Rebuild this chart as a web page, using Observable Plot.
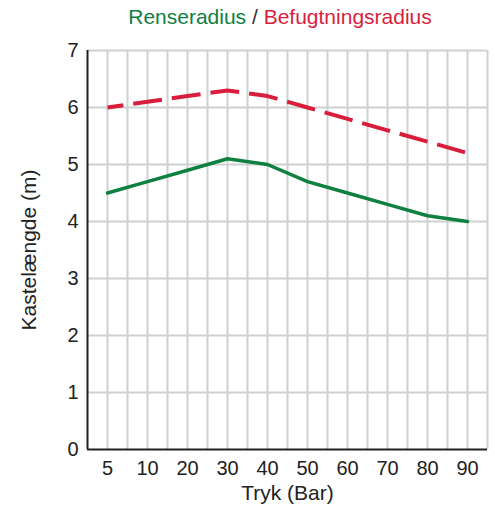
<!DOCTYPE html>
<html>
<head>
<meta charset="utf-8">
<script src="https://cdn.jsdelivr.net/npm/d3@7"></script>
<script src="https://cdn.jsdelivr.net/npm/@observablehq/plot@0.6"></script>
<style>
  body { margin: 0; background: #fff; }
  #wrap { position: relative; width: 495px; height: 508px; font-family: "Liberation Sans", Arial, sans-serif; }
  #title { position: absolute; top: 5px; left: 0; width: 560px; text-align: center; font-size: 21px; }
  #title .g { color: #0e8040; }
  #title .r { color: #d81e3c; }
  #title .s { color: #333; }
</style>
</head>
<body>
<div id="wrap">
  <div id="title"><span class="g">Renseradius</span><span class="s"> / </span><span class="r">Befugtningsradius</span></div>
  <div id="chart"></div>
</div>
<script>
const pressures = [5, 10, 20, 30, 40, 50, 60, 70, 80, 90];
const renseradius = [4.5, 4.7, 4.9, 5.1, 5.0, 4.7, 4.5, 4.3, 4.1, 4.0];
const befugtningsradius = [6.0, 6.1, 6.2, 6.3, 6.2, 6.0, 5.8, 5.6, 5.4, 5.2];
const yTicks = [0, 1, 2, 3, 4, 5, 6, 7];

const idx = pressures.map((_, i) => i);
const rense = idx.map(i => ({i, v: renseradius[i]}));
const befugt = idx.map(i => ({i, v: befugtningsradius[i]}));
const vGrid = d3.range(0, pressures.length, 0.5);

const chart = Plot.plot({
  width: 495,
  height: 508,
  marginLeft: 87,
  marginRight: 8,
  marginTop: 50,
  marginBottom: 59,
  style: {fontFamily: "Liberation Sans, Arial, sans-serif", fontSize: "20px", color: "#222", background: "#fff"},
  x: {domain: [-0.5, pressures.length - 0.5], label: null},
  y: {domain: [0, 7], label: null},
  marks: [
    Plot.ruleX(vGrid, {stroke: "#cdd2d1", strokeWidth: 2}),
    Plot.ruleY(yTicks.filter(d => d > 0), {stroke: "#cdd2d1", strokeWidth: 2}),
    Plot.ruleX([-0.5], {y1: 0, y2: 7, stroke: "#222", strokeWidth: 2}),
    Plot.ruleY([0], {stroke: "#222", strokeWidth: 2}),
    Plot.axisX(idx, {tickSize: 0, tickPadding: 11, tickFormat: i => pressures[i], fontSize: 20, label: null}),
    Plot.axisY(yTicks, {tickSize: 0, tickPadding: 9, tickFormat: d => String(d), fontSize: 20, label: null}),
    Plot.text(["Tryk (Bar)"], {frameAnchor: "bottom", dy: 50, fontSize: 21}),
    Plot.text(["Kastelængde (m)"], {frameAnchor: "left", textAnchor: "middle", dx: -58, rotate: -90, fontSize: 21}),
    Plot.line(befugt, {x: "i", y: "v", stroke: "#d81e3c", strokeWidth: 4, strokeLinecap: "butt", strokeDasharray: "29,10", strokeDashoffset: 13}),
    Plot.line(rense, {x: "i", y: "v", stroke: "#0e8040", strokeWidth: 3.5})
  ]
});
document.getElementById("chart").appendChild(chart);
</script>
</body>
</html>
